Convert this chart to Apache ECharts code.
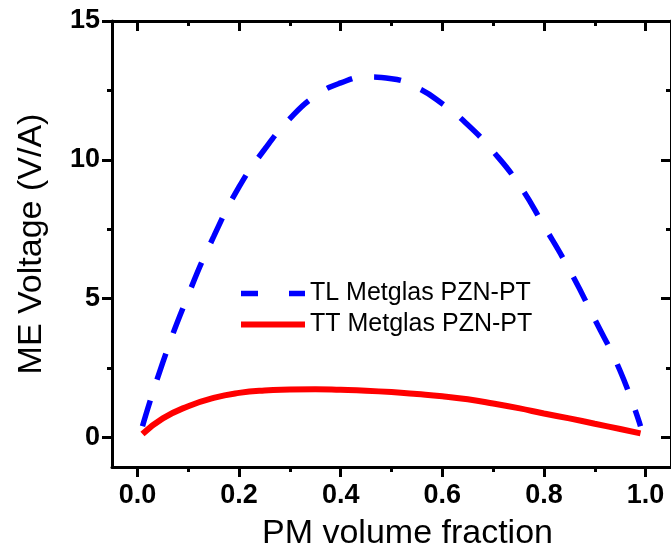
<!DOCTYPE html>
<html>
<head>
<meta charset="utf-8">
<script src="https://cdn.jsdelivr.net/npm/echarts@6/dist/echarts.min.js"></script>
<style>
    html, body { margin: 0; padding: 0; background: #fff; }
    #chart { width: 671px; height: 556px; }
</style>
</head>
<body>
<div id="chart"></div>
<script>
    // PM volume fraction (x)
    const pmFraction = [0.01, 0.05, 0.1, 0.15, 0.2, 0.25, 0.3, 0.35, 0.4, 0.45, 0.5,
        0.55, 0.6, 0.65, 0.7, 0.75, 0.8, 0.85, 0.9, 0.95, 0.99]
    // TL Metglas PZN-PT, ME voltage (V/A)
    const tlValues = [0.4, 2.7, 5.13, 7.23, 9.02, 10.37, 11.48, 12.3, 12.77, 12.98, 12.92,
        12.6, 12.02, 11.26, 10.3, 9.13, 7.62, 6.04, 4.25, 2.39, 0.4]
    // TT Metglas PZN-PT, ME voltage (V/A)
    const ttValues = [0.12, 0.68, 1.12, 1.42, 1.6, 1.69, 1.72, 1.73, 1.71, 1.68, 1.63,
        1.56, 1.48, 1.37, 1.22, 1.05, 0.86, 0.68, 0.49, 0.3, 0.14]
    const seriesNames = ['TL Metglas PZN-PT', 'TT Metglas PZN-PT']
    // tick labels
    const xTicks = [0, 0.2, 0.4, 0.6, 0.8, 1.0]
    const yTicks = [0, 5, 10, 15]

    const font = 'Liberation Sans, Arial, sans-serif'

    function pairs (ys) {
        let out = []
        for (let i = 0; i < pmFraction.length; i++) {
            out.push([pmFraction[i], ys[i]])
        }
        return out
    }

    function xAxisCfg (pos, withLabels) {
        return {
            type: 'value',
            position: pos,
            min: -0.05,
            max: 1.05,
            splitNumber: 5,
            name: withLabels ? 'PM volume fraction' : '',
            nameLocation: 'middle',
            nameGap: 50,
            nameTextStyle: { fontFamily: font, fontSize: 34, color: '#000', padding: [0, 0, 0, 32] },
            axisLine: { show: true, onZero: false, lineStyle: { color: '#000', width: 3 } },
            axisTick: {
                show: true,
                inside: !withLabels,
                length: 10,
                customValues: xTicks,
                lineStyle: { color: '#000', width: 3 }
            },
            minorTick: { show: true, splitNumber: 2, length: 5, lineStyle: { color: '#000', width: 3 } },
            axisLabel: {
                show: withLabels,
                margin: 15,
                customValues: xTicks,
                fontFamily: font,
                fontWeight: 'bold',
                fontSize: 27,
                color: '#000',
                formatter: v => v.toFixed(1)
            },
            splitLine: { show: false }
        }
    }

    function yAxisCfg (pos, withLabels) {
        return {
            type: 'value',
            position: pos,
            min: -1.07,
            max: 15,
            splitNumber: 3,
            name: withLabels ? 'ME Voltage (V/A)' : '',
            nameLocation: 'middle',
            nameGap: 63,
            nameTextStyle: { fontFamily: font, fontSize: 34, color: '#000' },
            axisLine: { show: true, onZero: false, lineStyle: { color: '#000', width: 3 } },
            axisTick: {
                show: true,
                inside: !withLabels,
                length: 10,
                customValues: yTicks,
                lineStyle: { color: '#000', width: 3 }
            },
            minorTick: { show: true, splitNumber: 2, length: 5, lineStyle: { color: '#000', width: 3 } },
            axisLabel: {
                show: withLabels,
                margin: 12,
                customValues: yTicks,
                fontFamily: font,
                fontWeight: 'bold',
                fontSize: 27,
                color: '#000'
            },
            splitLine: { show: false }
        }
    }

    const chart = echarts.init(document.getElementById('chart'))

    const option = {
        animation: false,
        backgroundColor: '#fff',
        grid: {
            left: 112,
            top: 21,
            width: 561,
            height: 448,
            containLabel: false
        },
        legend: {
            orient: 'vertical',
            left: 238,
            top: 281,
            padding: 0,
            itemWidth: 64,
            itemHeight: 14,
            itemGap: 6,
            itemStyle: { opacity: 0 },
            textStyle: { fontFamily: font, fontSize: 25, color: '#000' },
            data: [
                { name: seriesNames[0], lineStyle: { type: [17, 31], width: 5.5, cap: 'butt' } },
                { name: seriesNames[1], lineStyle: { width: 6 } }
            ]
        },
        xAxis: [xAxisCfg('bottom', true), xAxisCfg('top', false)],
        yAxis: [yAxisCfg('left', true), yAxisCfg('right', false)],
        series: [
            {
                name: seriesNames[0],
                type: 'line',
                symbol: 'none',
                smooth: true,
                color: '#0000ff',
                lineStyle: { color: '#0000ff', width: 5.5, type: [27, 22], cap: 'butt' },
                data: pairs(tlValues)
            },
            {
                name: seriesNames[1],
                type: 'line',
                symbol: 'none',
                smooth: true,
                color: '#ff0000',
                lineStyle: { color: '#ff0000', width: 6 },
                data: pairs(ttValues)
            }
        ]
    }
    chart.setOption(option)
</script>
</body>
</html>
